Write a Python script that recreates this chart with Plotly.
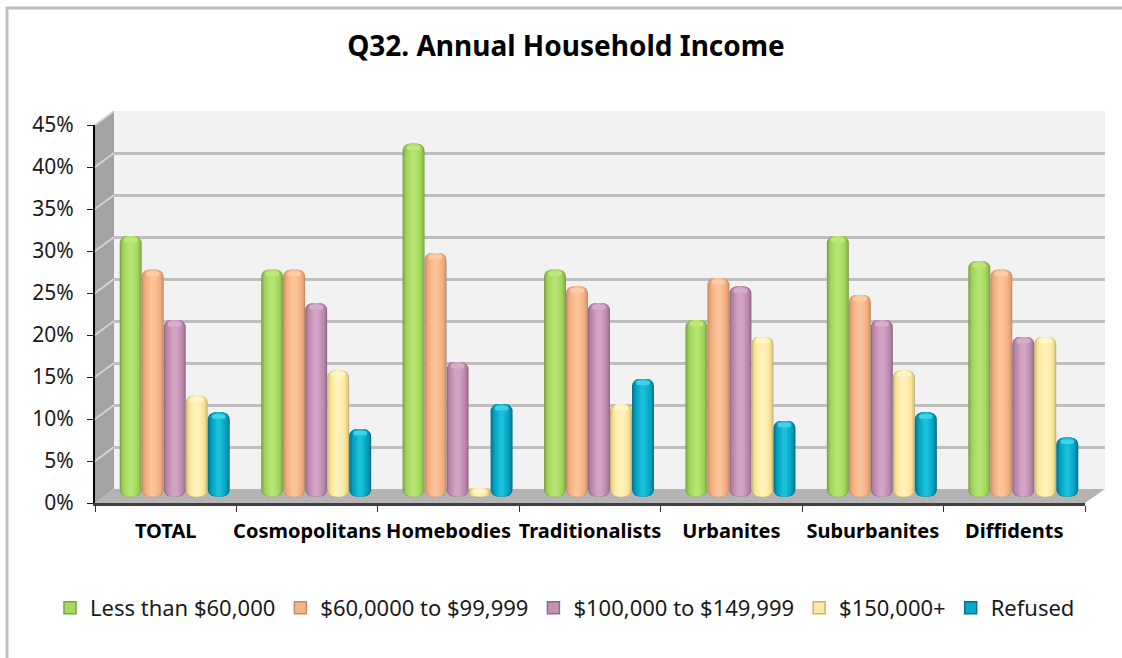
import plotly.graph_objects as go

categories = ["TOTAL", "Cosmopolitans", "Homebodies", "Traditionalists", "Urbanites", "Suburbanites", "Diffidents"]
series_names = ["Less than $60,000", "$60,0000 to $99,999", "$100,000 to $149,999", "$150,000+", "Refused"]
less_60k = [31, 27, 42, 27, 21, 31, 28]
from_60k = [27, 27, 29, 25, 26, 24, 27]
from_100k = [21, 23, 16, 23, 25, 21, 19]
over_150k = [12, 15, 1, 11, 19, 15, 19]
refused = [10, 8, 11, 14, 9, 10, 7]
series_values = [less_60k, from_60k, from_100k, over_150k, refused]
y_ticks = [0, 5, 10, 15, 20, 25, 30, 35, 40, 45]
y_tick_labels = ["0%", "5%", "10%", "15%", "20%", "25%", "30%", "35%", "40%", "45%"]
# edge -> centre shades of each cylinder
shades = [
    ["#7f9f4a", "#90bb50", "#9dcf59", "#a5d95f", "#addf68", "#b4e472"],
    ["#c28d66", "#dfa077", "#efab7e", "#f6b484", "#f9ba8e", "#fcc39a"],
    ["#8f6a88", "#aa7c9e", "#bb87ab", "#c490b4", "#cb9abc", "#d2a3c4"],
    ["#c6b477", "#e3d08a", "#f5e196", "#fce99f", "#ffeeac", "#fff2b8"],
    ["#0a6f89", "#0189a6", "#019db9", "#05abc8", "#0cb4d0", "#1cbfd9"],
]
cap_colors = ["#bce87c", "#fdcba6", "#d8adcb", "#fff6c8", "#3fd2e8"]

W, H = 1122, 658
def fx(p): return p / W
def fy(p): return 1 - p / H

front_l, front_r, front_0, front_45 = 95, 1085, 503, 125
back_l, back_r, back_0, back_45 = 114, 1105, 489, 111
BAR_SHIFT = 9
BAR_0 = 496.5

fig = go.Figure()
n = len(categories)
group_px = (front_r - front_l) / n
bar_px = 22
bar_w = bar_px / group_px
layer_frac = [1.0, 0.9, 0.76, 0.6, 0.42, 0.24]

# wall grid subplot (x / y)
fig.add_trace(go.Scatter(x=[0], y=[0], mode="markers", marker=dict(opacity=0),
                         showlegend=False, hoverinfo="skip", xaxis="x", yaxis="y"))

xs = list(range(n))
for s, (name, vals) in enumerate(zip(series_names, series_values)):
    for li, frac in enumerate(layer_frac):
        w = bar_w * frac
        off = (s - 2) * bar_w - w / 2
        rad = bar_px * frac / 2 * 0.7
        fig.add_trace(go.Bar(
            x=xs, y=vals, base=[0.001] * n, width=w, offset=off,
            marker=dict(color=shades[s][li], cornerradius=rad, line_width=0),
            name=name, legendgroup=name, showlegend=False, xaxis="x2", yaxis="y2"))
    fig.add_trace(go.Bar(
        x=xs, y=[min(0.55, v * 0.4) for v in vals], base=[v - min(0.75, v * 0.6) for v in vals],
        width=bar_w * 0.62, offset=(s - 2) * bar_w - bar_w * 0.31,
        marker=dict(color=cap_colors[s], cornerradius=2, line_width=0),
        showlegend=False, hoverinfo="skip", xaxis="x2", yaxis="y2"))
    # legend entry
    fig.add_trace(go.Bar(x=[None], y=[None], name=name,
                         marker=dict(color=shades[s][3], line=dict(color=shades[s][0], width=1.5)),
                         xaxis="x2", yaxis="y2", showlegend=True))

# front axes subplot (x3 / y3)
fig.add_trace(go.Scatter(x=[0], y=[0], mode="markers", marker=dict(opacity=0),
                         showlegend=False, hoverinfo="skip", xaxis="x3", yaxis="y3"))

shapes = [
    dict(type="rect", xref="paper", yref="paper", x0=fx(7), x1=fx(1140), y0=fy(8), y1=fy(680),
         line=dict(color="#bfbfbf", width=3), fillcolor="white", layer="below"),
    dict(type="rect", xref="paper", yref="paper", x0=fx(back_l), x1=fx(back_r), y0=fy(back_0), y1=fy(back_45),
         line_width=0, fillcolor="#f2f2f2", layer="below"),
    dict(type="path", xref="paper", yref="paper", layer="below", line_width=0, fillcolor="#a3a3a3",
         path=f"M{fx(front_l)},{fy(front_45)} L{fx(back_l)},{fy(back_45)} L{fx(back_l)},{fy(back_0)} L{fx(front_l)},{fy(front_0)} Z"),
    dict(type="path", xref="paper", yref="paper", layer="below", line_width=0, fillcolor="#b4b4b4",
         path=f"M{fx(front_l)},{fy(front_0)} L{fx(back_l)},{fy(back_0)} L{fx(back_r)},{fy(back_0)} L{fx(front_r)},{fy(front_0)} Z"),
]
for t in y_ticks[1:]:
    y_f = front_0 + (front_45 - front_0) * t / 45
    y_b = back_0 + (back_45 - back_0) * t / 45
    shapes.append(dict(type="line", xref="paper", yref="paper", layer="below",
                       x0=fx(front_l), x1=fx(back_l), y0=fy(y_f), y1=fy(y_b),
                       line=dict(color="#d4d4d4", width=2)))

fig.update_layout(
    width=W, height=H, margin=dict(l=0, r=0, t=0, b=0, autoexpand=False), autosize=False,
    paper_bgcolor="white", plot_bgcolor="rgba(0,0,0,0)",
    barmode="overlay", shapes=shapes,
    font=dict(family="Noto Sans", color="#1a1a1a"),
    title=dict(text="<b>Q32. Annual Household Income</b>", x=566 / W, xanchor="center",
               y=fy(46), yanchor="middle", font=dict(size=28, color="black", family="Noto Sans")),
    legend=dict(orientation="h", xref="container", yref="container", x=fx(50), y=fy(608),
                xanchor="left", yanchor="middle",
                font=dict(size=22, color="#1a1a1a"), itemwidth=30, tracegroupgap=0,
                bgcolor="rgba(0,0,0,0)", traceorder="normal"),
    xaxis=dict(domain=[fx(back_l), fx(back_r)], range=[-0.5, n - 0.5], showgrid=False, zeroline=False,
               showticklabels=False, ticks="", showline=False, anchor="y", automargin=False),
    yaxis=dict(domain=[fy(back_0), fy(back_45)], range=[0, 45], tickvals=y_ticks, showgrid=True,
               gridcolor="#bebebe", gridwidth=2.5, zeroline=False, showticklabels=False, ticks="", anchor="x", automargin=False),
    xaxis2=dict(domain=[fx(front_l + BAR_SHIFT), fx(front_r + BAR_SHIFT)], range=[-0.5, n - 0.5], visible=False, anchor="y2", automargin=False),
    yaxis2=dict(domain=[fy(BAR_0), fy(BAR_0 - (front_0 - front_45))], range=[0, 45], visible=False, anchor="x2", automargin=False),
    xaxis3=dict(domain=[fx(front_l), fx(front_r)], range=[-0.5, n - 0.5], tickmode="array", tickvals=xs,
                ticktext=[f"<b>{c}</b>" for c in categories], ticks="", showgrid=False, zeroline=False,
                showline=True, linecolor="#404040", linewidth=3, anchor="y3", automargin=False, tickangle=0,
                tickfont=dict(size=20, color="black", family="Noto Sans"), ticklabelstandoff=8,
                minor=dict(tickmode="array", tickvals=[i - 0.5 for i in range(n + 1)], ticks="outside",
                           ticklen=6, tickcolor="#333333", tickwidth=1, showgrid=False)),
    yaxis3=dict(domain=[fy(front_0), fy(front_45)], range=[0, 45], tickmode="array", tickvals=y_ticks,
                ticktext=y_tick_labels, ticks="outside", ticklen=6, tickcolor="#222222", tickwidth=1, automargin=False,
                showgrid=False, zeroline=False, showline=True, linecolor="black", linewidth=2, anchor="x3",
                ticklabelstandoff=9, tickfont=dict(size=21, color="#1a1a1a", family="Noto Sans")),
)

fig.write_html("out.html", post_script="document.body.style.margin='0';", config={"displayModeBar": False})
